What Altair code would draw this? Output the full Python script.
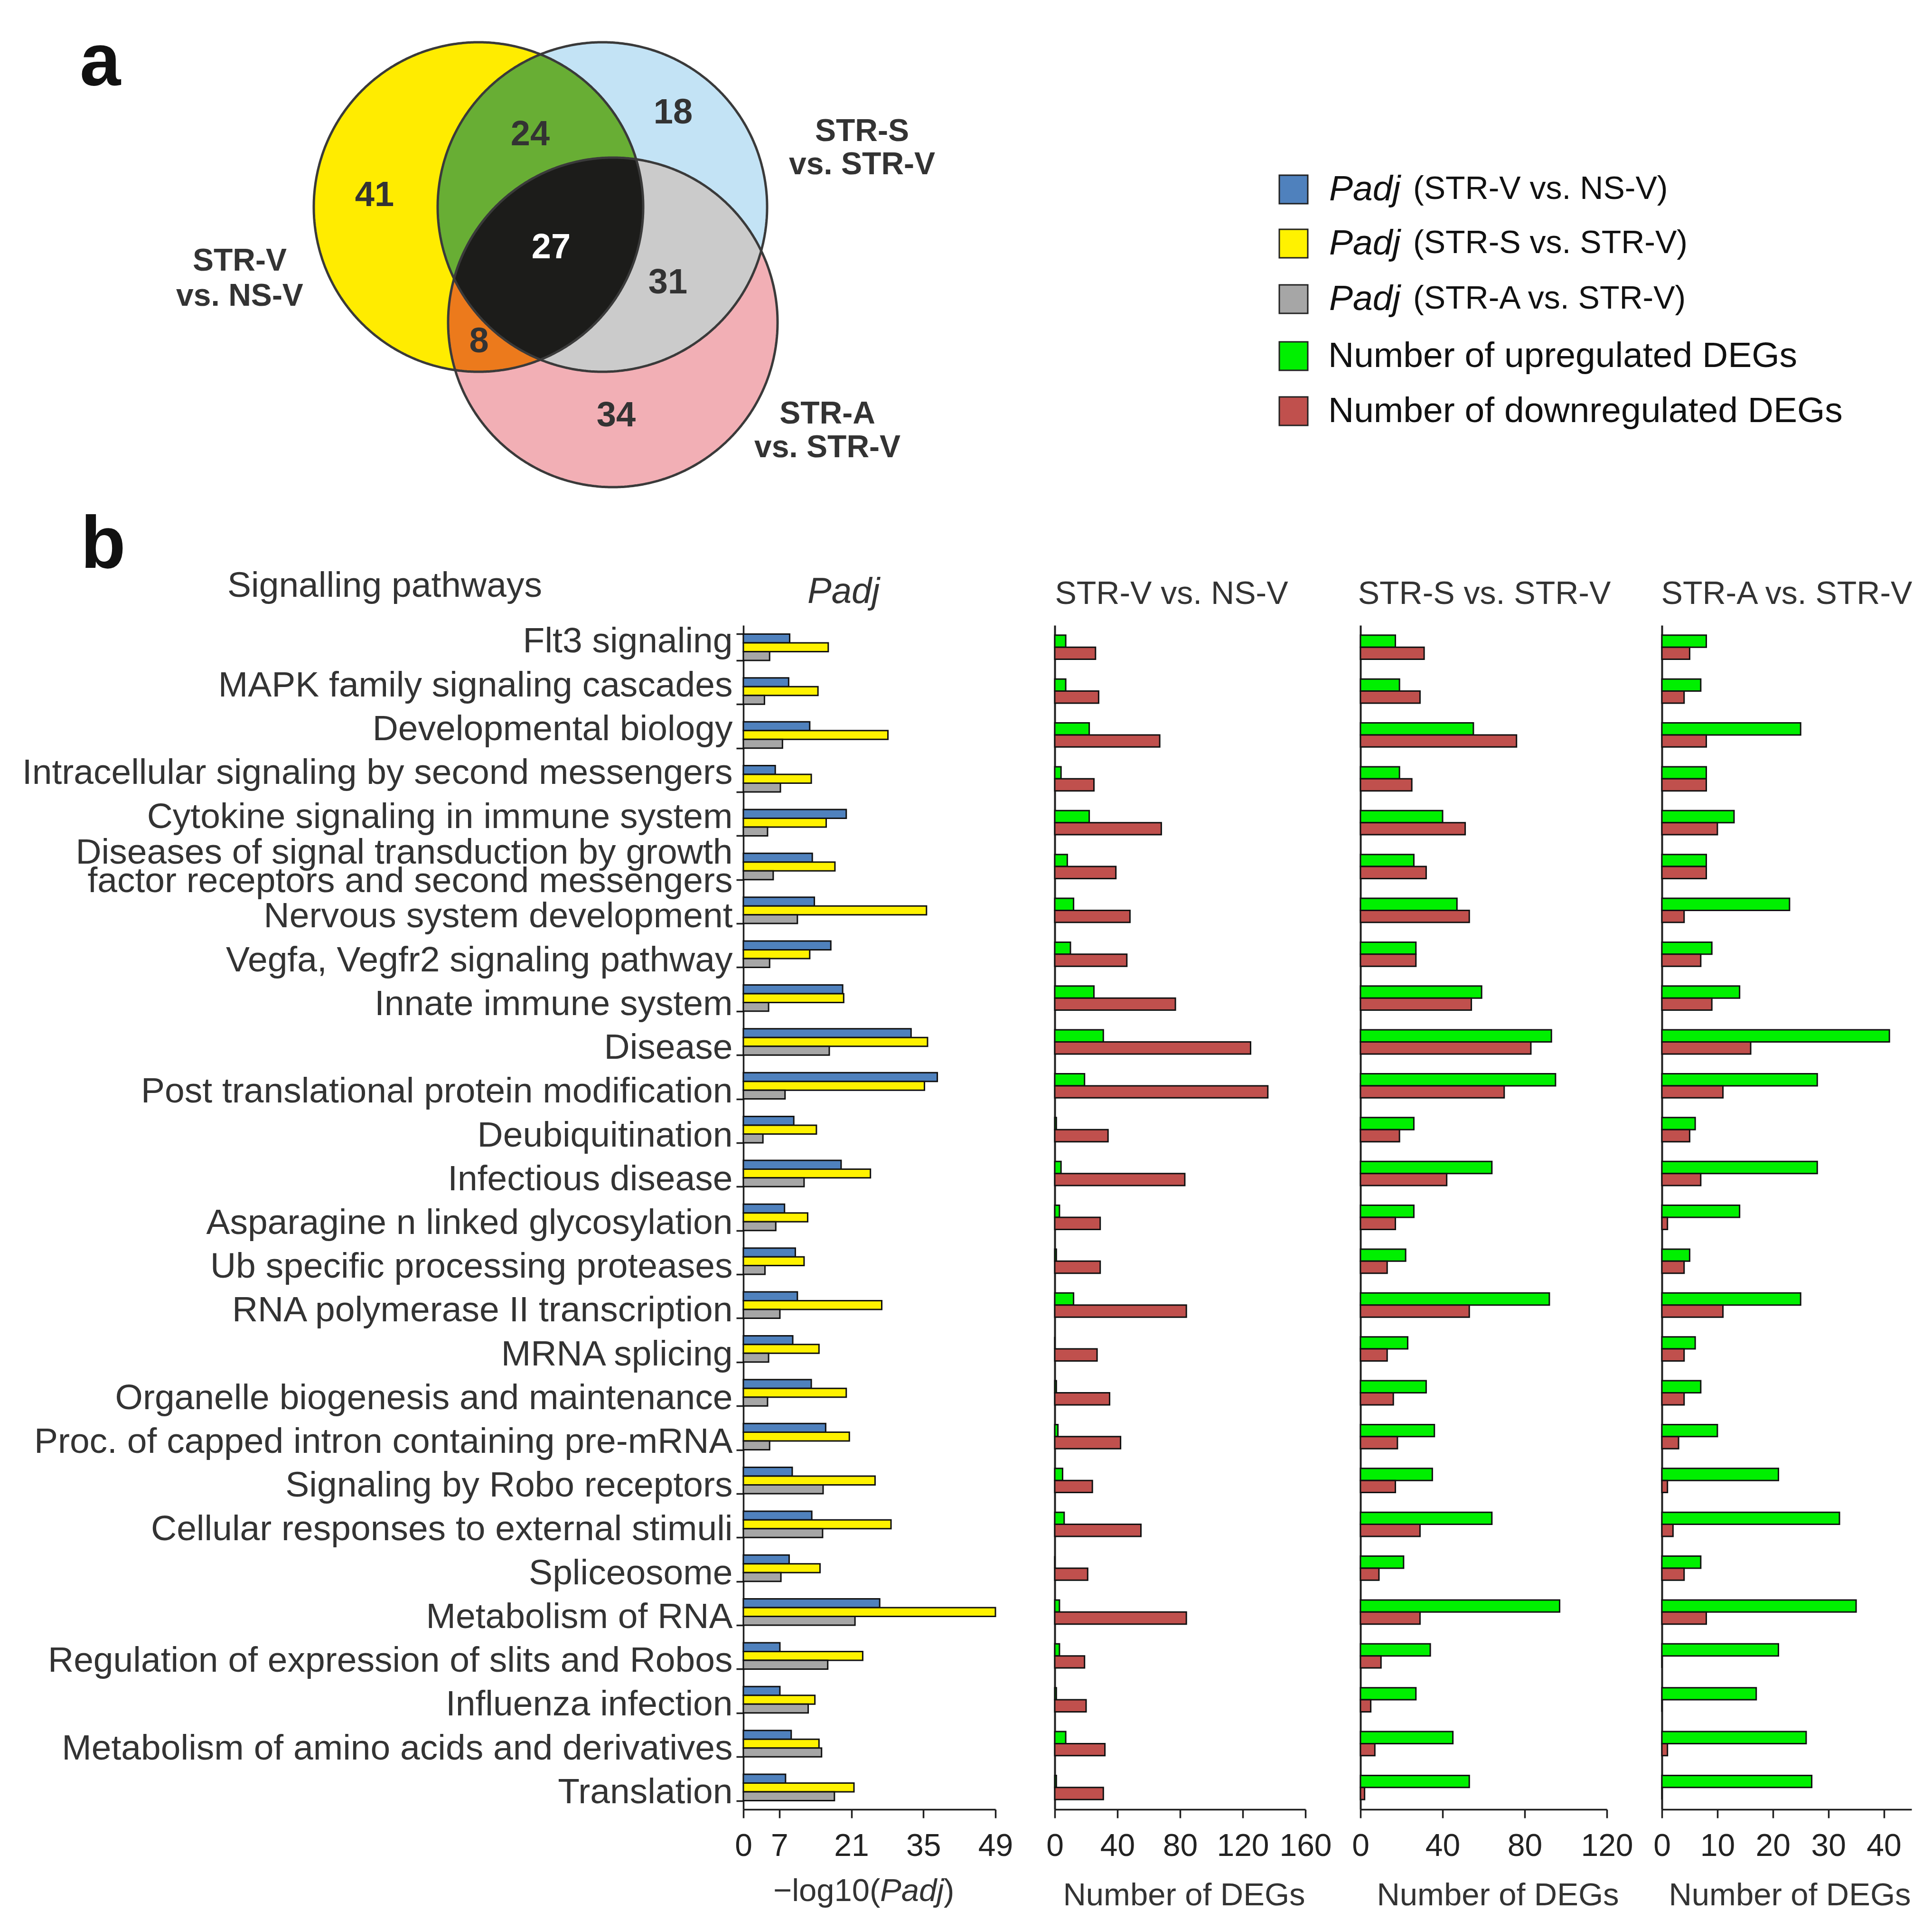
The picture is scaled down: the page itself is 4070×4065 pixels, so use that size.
import altair as alt
import numpy as np
import pandas as pd

# ---------------- data ----------------
pathways = [
    "Flt3 signaling",
    "MAPK family signaling cascades",
    "Developmental biology",
    "Intracellular signaling by second messengers",
    "Cytokine signaling in immune system",
    "Diseases of signal transduction by growth|factor receptors and second messengers",
    "Nervous system development",
    "Vegfa, Vegfr2 signaling pathway",
    "Innate immune system",
    "Disease",
    "Post translational protein modification",
    "Deubiquitination",
    "Infectious disease",
    "Asparagine n linked glycosylation",
    "Ub specific processing proteases",
    "RNA polymerase II transcription",
    "MRNA splicing",
    "Organelle biogenesis and maintenance",
    "Proc. of capped intron containing pre-mRNA",
    "Signaling by Robo receptors",
    "Cellular responses to external stimuli",
    "Spliceosome",
    "Metabolism of RNA",
    "Regulation of expression of slits and Robos",
    "Influenza infection",
    "Metabolism of amino acids and derivatives",
    "Translation",
]

padj_str_v_vs_ns_v = [9.0, 8.8, 12.9, 6.2, 20.0, 13.4, 13.8, 17.0, 19.3, 32.6, 37.7, 9.8, 19.0, 8.0,
                      10.1, 10.5, 9.6, 13.2, 16.0, 9.5, 13.3, 8.9, 26.5, 7.1, 7.1, 9.3, 8.2]
padj_str_s_vs_str_v = [16.5, 14.5, 28.1, 13.2, 16.1, 17.8, 35.6, 12.9, 19.5, 35.8, 35.2, 14.2, 24.7, 12.5,
                       11.8, 26.9, 14.7, 20.0, 20.6, 25.6, 28.7, 14.9, 49.0, 23.2, 13.9, 14.7, 21.5]
padj_str_a_vs_str_v = [5.1, 4.1, 7.6, 7.2, 4.7, 5.8, 10.5, 5.1, 4.9, 16.7, 8.1, 3.8, 11.8, 6.3,
                       4.2, 7.1, 4.9, 4.7, 5.1, 15.5, 15.4, 7.3, 21.7, 16.4, 12.6, 15.2, 17.7]

up_str_v_vs_ns_v = [7, 7, 22, 4, 22, 8, 12, 10, 25, 31, 19, 1, 4, 3, 1, 12, 0, 1, 2, 5, 6, 0, 3, 3, 1, 7, 1]
down_str_v_vs_ns_v = [26, 28, 67, 25, 68, 39, 48, 46, 77, 125, 136, 34, 83, 29, 29, 84, 27, 35, 42, 24, 55, 21, 84, 19, 20, 32, 31]
up_str_s_vs_str_v = [17, 19, 55, 19, 40, 26, 47, 27, 59, 93, 95, 26, 64, 26, 22, 92, 23, 32, 36, 35, 64, 21, 97, 34, 27, 45, 53]
down_str_s_vs_str_v = [31, 29, 76, 25, 51, 32, 53, 27, 54, 83, 70, 19, 42, 17, 13, 53, 13, 16, 18, 17, 29, 9, 29, 10, 5, 7, 2]
up_str_a_vs_str_v = [8, 7, 25, 8, 13, 8, 23, 9, 14, 41, 28, 6, 28, 14, 5, 25, 6, 7, 10, 21, 32, 7, 35, 21, 17, 26, 27]
down_str_a_vs_str_v = [5, 4, 8, 8, 10, 8, 4, 7, 9, 16, 11, 5, 7, 1, 4, 11, 4, 4, 3, 1, 2, 4, 8, 0, 0, 1, 0]

comparisons = ["STR-V vs. NS-V", "STR-S vs. STR-V", "STR-A vs. STR-V"]
padj_series = ["Padj (STR-V vs. NS-V)", "Padj (STR-S vs. STR-V)", "Padj (STR-A vs. STR-V)"]
deg_series = ["Number of upregulated DEGs", "Number of downregulated DEGs"]

# Venn: regions in order V-only, S-only, A-only, V&S, V&A, S&A, all three
venn_region_counts = [41, 18, 34, 24, 8, 31, 27]

padj_ticks = [0, 7, 21, 35, 49]
deg_ticks = [[0, 40, 80, 120, 160], [0, 40, 80, 120], [0, 10, 20, 30, 40]]
deg_domains = [160, 120, 45]

# ---------------- styles / layout ----------------
FONT = "Liberation Sans"
PADJ_COLORS = ["#4F81BD", "#FFF200", "#A6A6A6"]
DEG_COLORS = ["#00F000", "#C0504D"]
REGION_COLORS = ["#FFEC00", "#C3E3F5", "#F2AFB5", "#68AE34", "#EC7A1C", "#CBCBCB", "#1C1C1A"]
REGION_MASKS = [(1, 0, 0), (0, 1, 0), (0, 0, 1), (1, 1, 0), (1, 0, 1), (0, 1, 1), (1, 1, 1)]
TEXT = "#333333"
AXC = "#1f1f1f"

H = 2494
PANEL_W = [531, 528, 519, 526]
OX, OY = 1567, 15          # page position of annotation-canvas origin
CANVAS_W, CANVAS_H, VSPACE = 2462, 1290, 10

# Venn geometry (page px)
venn_cx = [1009, 1270, 1292]
venn_cy = [434, 434, 677]
venn_r = 347
region_label_pos = [(790, 410), (1419, 236), (1299, 874), (1118, 282), (1010, 718), (1408, 594), (1162, 520)]
set_label_pos = [(506, 548, 622), (1817, 275, 345), (1744, 870, 941)]


def cv(x, y):
    return x - OX, y - OY


def venn_ring(mask, n=720):
    t = np.linspace(0, 2 * np.pi, n, endpoint=False)
    arcs = []
    for i in range(3):
        xs = venn_cx[i] + venn_r * np.cos(t)
        ys = venn_cy[i] + venn_r * np.sin(t)
        ok = np.ones(n, bool)
        for j in range(3):
            if j == i:
                continue
            ins = (xs - venn_cx[j]) ** 2 + (ys - venn_cy[j]) ** 2 < venn_r ** 2
            ok &= ins == bool(mask[j])
        if not ok.any():
            continue
        pts = np.column_stack([xs, ys])
        if ok.all():
            arcs.append(pts)
            continue
        k = int(np.argmin(ok))
        run = []
        for m in np.roll(np.arange(n), -k):
            if ok[m]:
                run.append(pts[m])
            elif run:
                arcs.append(np.array(run))
                run = []
        if run:
            arcs.append(np.array(run))
    ring = list(arcs.pop(0))
    while arcs:
        last = ring[-1]
        best, rev, bd = 0, False, 1e18
        for a_i, a in enumerate(arcs):
            d0 = np.hypot(*(a[0] - last))
            d1 = np.hypot(*(a[-1] - last))
            if d0 < bd:
                best, rev, bd = a_i, False, d0
            if d1 < bd:
                best, rev, bd = a_i, True, d1
        a = arcs.pop(best)
        ring.extend(a[::-1] if rev else a)
    ring.append(ring[0])
    return [[round(float(x) - OX, 1), round(float(y) - OY, 1)] for x, y in ring]


region_features = [
    {"type": "Feature", "properties": {"fill": c},
     "geometry": {"type": "Polygon", "coordinates": [venn_ring(m)]}}
    for m, c in zip(REGION_MASKS, REGION_COLORS)
]
tt = np.linspace(0, 2 * np.pi, 721)
circle_features = [
    {"type": "Feature", "properties": {},
     "geometry": {"type": "Polygon", "coordinates": [[
         [round(float(cx + venn_r * np.cos(a)) - OX, 1), round(float(cy + venn_r * np.sin(a)) - OY, 1)]
         for a in tt]]}}
    for cx, cy in zip(venn_cx, venn_cy)
]

regions = alt.Chart(alt.Data(values=region_features)).mark_geoshape(strokeWidth=0, clip=False).encode(
    color=alt.Color("properties.fill:N", scale=None)
).project(type="identity", scale=1, translate=[0, 0])
outlines = alt.Chart(alt.Data(values=circle_features)).mark_geoshape(
    filled=False, stroke="#3a3a3a", strokeWidth=5, clip=False
).project(type="identity", scale=1, translate=[0, 0])


def text_layer(rows, baseline="middle", **kw):
    df = pd.DataFrame(rows, columns=["x", "y", "t", "s", "c"])
    df["x"], df["y"] = cv(df["x"], df["y"])
    return alt.Chart(df).mark_text(font=FONT, baseline=baseline, **kw).encode(
        x=alt.X("x:Q", scale=None, axis=None),
        y=alt.Y("y:Q", scale=None, axis=None),
        text="t:N",
        size=alt.Size("s:Q", scale=None, legend=None),
        color=alt.Color("c:N", scale=None),
    )


# Venn numbers and set labels
venn_num_rows = [(x, y, str(v), 74, "#ffffff" if i == 6 else TEXT)
                 for i, ((x, y), v) in enumerate(zip(region_label_pos, venn_region_counts))]
venn_set_rows = []
for name, (x, y1, y2) in zip(comparisons, set_label_pos):
    a, b = name.split(" vs. ")
    venn_set_rows.append((x, y1, a, 66, TEXT))
    venn_set_rows.append((x, y2, "vs. " + b, 66, TEXT))

letters = text_layer([(169, 177, "a", 155, "#111"), (171, 1194, "b", 155, "#111")],
                     baseline="alphabetic", fontWeight="bold", align="left")

# legend
leg_y = [397, 511, 628, 748, 864]
leg_colors = PADJ_COLORS + DEG_COLORS
leg_df = pd.DataFrame({"x": [2726 - OX] * 5, "y": [v - OY for v in leg_y], "c": leg_colors})
leg_squares = alt.Chart(leg_df).mark_square(size=3600, filled=True, stroke="#222", strokeWidth=3,
                                            opacity=1).encode(
    x=alt.X("x:Q", scale=None, axis=None), y=alt.Y("y:Q", scale=None, axis=None),
    color=alt.Color("c:N", scale=None))
leg_italic = text_layer([(2801, leg_y[i], "Padj", 75, "#111") for i in range(3)],
                        fontStyle="italic", align="left")
leg_paren = text_layer([(2978, leg_y[i], "(" + padj_series[i].split("(")[1], 68, "#111") for i in range(3)],
                       align="left")
leg_plain = text_layer([(2799, leg_y[3 + i], deg_series[i], 75, "#111") for i in range(2)], align="left")

# headings
head_left = text_layer([(480, 1232, "Signalling pathways", 75, TEXT)], align="left")
head_padj = text_layer([(1778, 1245, "Padj", 76, TEXT)], fontStyle="italic", align="center")
head_cmp = text_layer([(x, 1250, n, 68, TEXT) for x, n in zip([2469, 3128, 3765], comparisons)],
                      align="center")
xt_a = text_layer([(1630, 3982, "\u2212log10(", 67, TEXT), (1989, 3982, ")", 67, TEXT)], align="left")
xt_b = text_layer([(1855, 3982, "Padj", 67, TEXT)], fontStyle="italic", align="left")

canvas = alt.layer(
    regions, outlines,
    text_layer(venn_num_rows, fontWeight="bold", align="center"),
    text_layer(venn_set_rows, fontWeight="bold", align="center"),
    letters, leg_squares, leg_italic, leg_paren, leg_plain,
    head_left, head_padj, head_cmp, xt_a, xt_b,
).properties(width=CANVAS_W, height=CANVAS_H)

# ---------------- bar panels ----------------
n = len(pathways)
padj_df = pd.DataFrame({
    "pathway": pathways * 3,
    "series": sum([[s] * n for s in padj_series], []),
    "value": padj_str_v_vs_ns_v + padj_str_s_vs_str_v + padj_str_a_vs_str_v,
})

# in the original, labels above the two-line entry sit a little high, those below a little low
two_line = next(i for i, p in enumerate(pathways) if "|" in p)
label_offsets = []
for i, p in enumerate(pathways):
    if i < two_line:
        off = -12.5
    elif i == two_line:
        off = -30
    else:
        off = round(12.5 - 3.0 * (i - two_line - 1) / (n - two_line - 2), 1)
    label_offsets.append({"test": "datum.value === '%s'" % p, "value": off})

x_axis_common = dict(title=None, grid=False, labelFont=FONT, labelFontSize=66, labelColor="#222",
                     labelBaseline="middle", labelPadding=59, labelFlush=False, labelOverlap=False,
                     tickSize=18, tickWidth=3.5, tickColor=AXC, domainWidth=3.5, domainColor=AXC)

padj_chart = alt.Chart(padj_df).mark_bar(stroke="#111", strokeWidth=3).encode(
    y=alt.Y("pathway:N", sort=pathways,
            scale=alt.Scale(paddingInner=0.4, paddingOuter=0.2),
            axis=alt.Axis(title=None, tickBand="extent", labelFont=FONT, labelFontSize=75,
                          labelColor=TEXT, labelPadding=8, labelLimit=3000,
                          labelExpr="datum.value ? split(datum.value, '|') : ''", labelLineHeight=60,
                          labelOffset={"condition": label_offsets, "value": 0},
                          tickSize=15, tickWidth=3.5, tickColor=AXC, domainWidth=3.5, domainColor=AXC)),
    yOffset=alt.YOffset("series:N", sort=padj_series, scale=alt.Scale(paddingInner=0, paddingOuter=0)),
    x=alt.X("value:Q", scale=alt.Scale(domain=[0, 49], nice=False),
            axis=alt.Axis(values=padj_ticks, **x_axis_common)),
    color=alt.Color("series:N", scale=alt.Scale(domain=padj_series, range=PADJ_COLORS), legend=None),
).properties(width=PANEL_W[0], height=H)

ups = [up_str_v_vs_ns_v, up_str_s_vs_str_v, up_str_a_vs_str_v]
downs = [down_str_v_vs_ns_v, down_str_s_vs_str_v, down_str_a_vs_str_v]
title_x = [272, 289, 269]
deg_charts = []
for k in range(3):
    df = pd.DataFrame({
        "pathway": pathways * 2,
        "series": [deg_series[0]] * n + [deg_series[1]] * n,
        "count": ups[k] + downs[k],
    })
    ch = alt.Chart(df).mark_bar(stroke="#111", strokeWidth=3).encode(
        y=alt.Y("pathway:N", sort=pathways,
                scale=alt.Scale(paddingInner=0.45, paddingOuter=0.225),
                axis=alt.Axis(title=None, labels=False, ticks=False, domainWidth=4, domainColor=AXC)),
        yOffset=alt.YOffset("series:N", sort=deg_series, scale=alt.Scale(paddingInner=0, paddingOuter=0)),
        x=alt.X("count:Q", scale=alt.Scale(domain=[0, deg_domains[k]], nice=False),
                axis=alt.Axis(values=deg_ticks[k], **{**x_axis_common, "title": "Number of DEGs"},
                              titleFont=FONT, titleFontSize=67, titleFontWeight="normal", titleColor=TEXT,
                              titleX=title_x[k], titleY=181, titleBaseline="middle", titleAlign="center")),
        color=alt.Color("series:N", scale=alt.Scale(domain=deg_series, range=DEG_COLORS), legend=None),
    ).properties(width=PANEL_W[k + 1], height=H)
    deg_charts.append(ch)

right = alt.hconcat(*deg_charts, spacing=116, bounds="flush").resolve_scale(
    x="independent", y="independent", color="independent", yOffset="independent")
bottom = alt.hconcat(padj_chart, right, spacing=125, bounds="flush").resolve_scale(
    x="independent", y="independent", color="independent", yOffset="independent")

chart = alt.vconcat(canvas, bottom, spacing=VSPACE, bounds="flush").resolve_scale(
    x="independent", y="independent", color="independent"
).properties(
    padding={"left": 38, "top": 9, "right": 10, "bottom": 10},
    background="white",
).configure(font=FONT).configure_view(stroke=None)

chart.save("out.html", embed_options={"renderer": "svg", "actions": False})
